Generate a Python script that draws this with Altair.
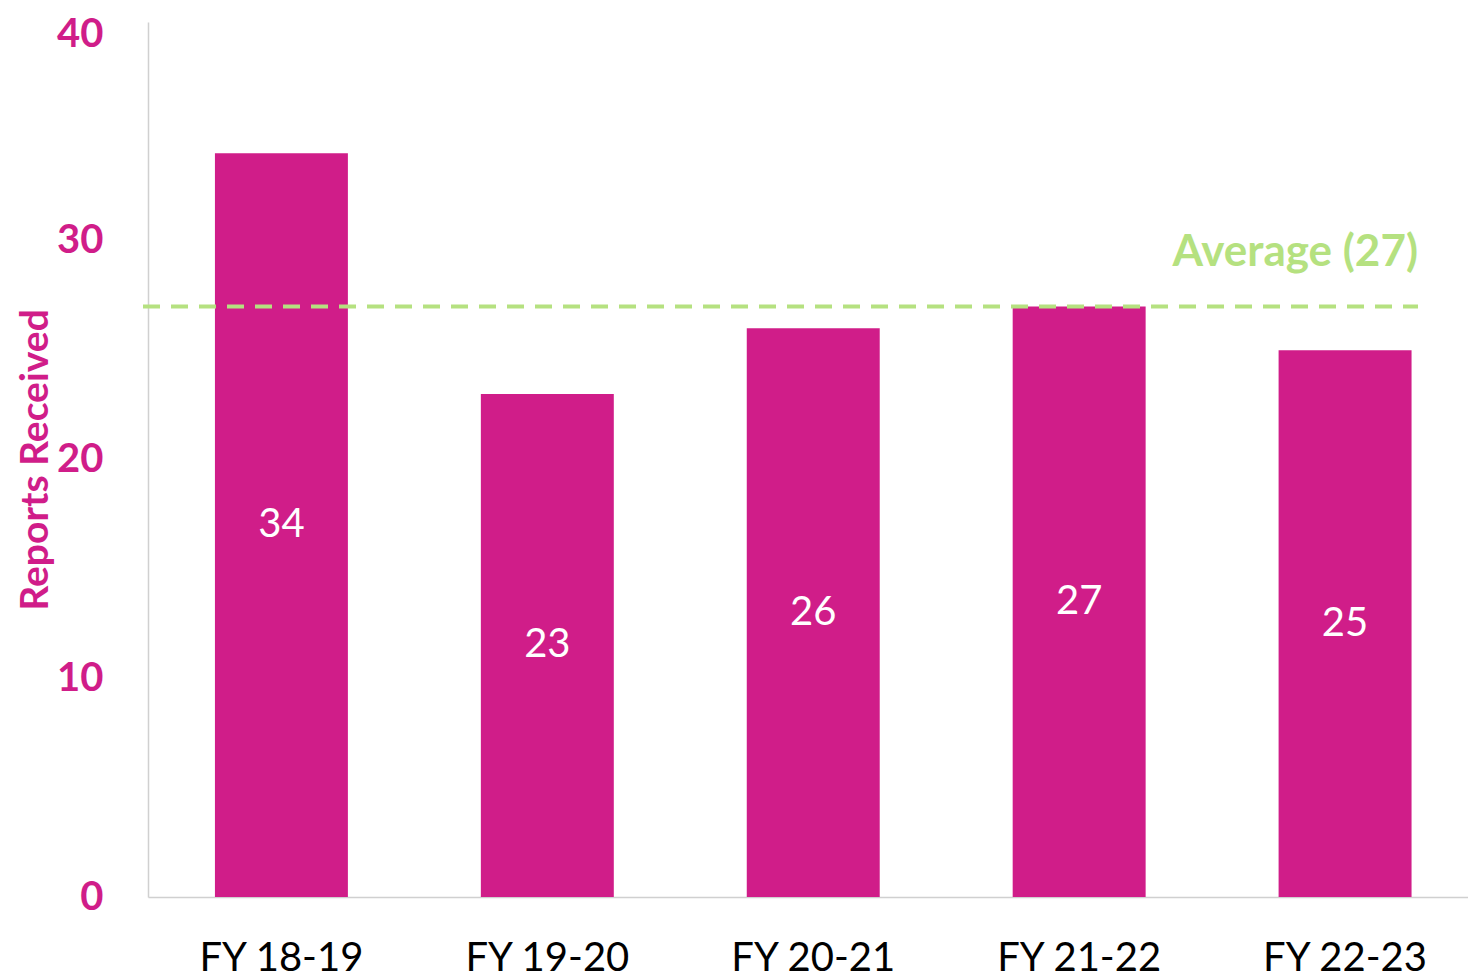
import altair as alt
import pandas as pd

years = ["FY 18-19", "FY 19-20", "FY 20-21", "FY 21-22", "FY 22-23"]
reports = [34, 23, 26, 27, 25]
average_value = [27]
average_label = ["Average (27)"]

PINK = "#D01D89"
GREEN = "#B5E180"
FONT = "Lato"

df = pd.DataFrame({"year": years, "reports": reports})
df["half"] = df["reports"] / 2
avg = pd.DataFrame({"avg": average_value, "label": average_label})

x = alt.X("year:N", sort=years, title=None,
          scale=alt.Scale(paddingInner=0.5, paddingOuter=0.232, align=0.5425),
          axis=alt.Axis(labelAngle=0, labelFont=FONT, labelFontSize=40,
                        labelColor="#000000", labelPadding=41, ticks=False,
                        domainColor="#D0D0D0", domainWidth=1.5))
y = alt.Y("reports:Q", title="Reports Received",
          scale=alt.Scale(domain=[0, 40], nice=False),
          axis=alt.Axis(values=[0, 10, 20, 30, 40], grid=False, ticks=False,
                        labelFont=FONT, labelFontSize=40, labelFontWeight="bold",
                        labelColor=PINK, labelPadding=45,
                        labelOffset={"condition": {"test": "datum.value == 40", "value": 12}, "value": 0},
                        domainColor="#D0D0D0", domainWidth=1.5,
                        titleFont=FONT, titleFontSize=39, titleFontWeight="bold",
                        titleColor=PINK, titleX=-113, titleY=437.5,
                        titleAngle=-90, titleBaseline="middle", titleAlign="center"))

bars = alt.Chart(df).mark_bar(color=PINK).encode(x=x, y=y)

labels = alt.Chart(df).mark_text(color="white", font=FONT, fontSize=40,
                                 baseline="middle").encode(
    x=alt.X("year:N", sort=years),
    y=alt.Y("half:Q"),
    text="reports:Q")

avg_line = alt.Chart(avg).mark_rule(color=GREEN, strokeWidth=4,
                                    strokeDash=[17, 11]).encode(
    y="avg:Q", x=alt.value(-5), x2=alt.value(1270))

avg_text = alt.Chart(avg).mark_text(color=GREEN, font=FONT, fontSize=44,
                                    fontWeight="bold", align="right",
                                    baseline="alphabetic", dy=-40).encode(
    y="avg:Q", x=alt.value(1270), text="label:N")

chart = alt.layer(bars, labels, avg_line, avg_text).properties(
    width=1320, height=875,
    autosize=alt.AutoSizeParams(type="none"),
    padding={"left": 140, "top": 14, "right": 0, "bottom": 82},
).configure(background="white").configure_view(stroke=None)

chart.save("out.html", embed_options={"renderer": "svg", "actions": False})
